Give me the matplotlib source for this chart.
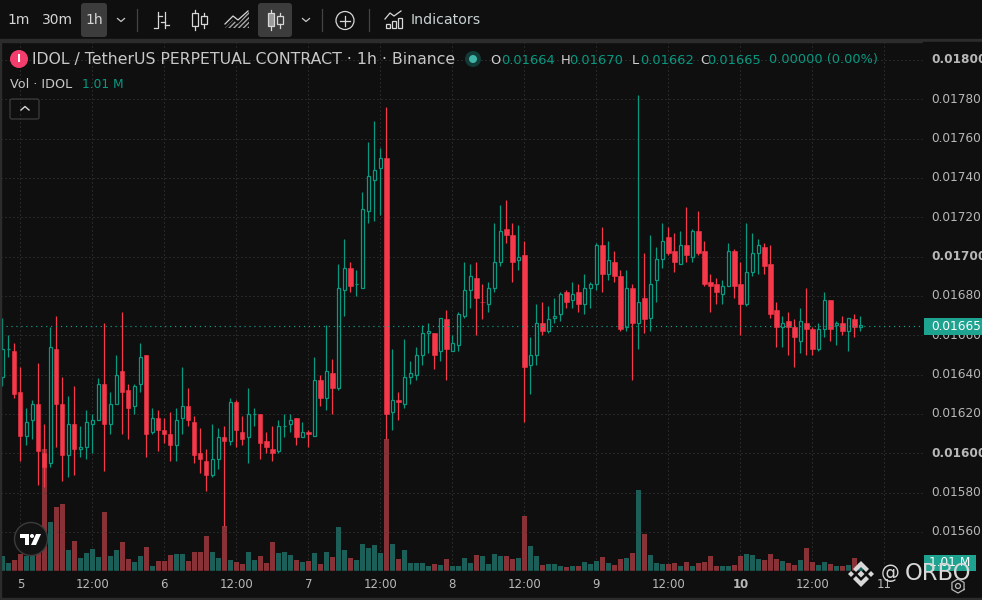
import matplotlib
matplotlib.use("Agg")
import matplotlib.pyplot as plt
from matplotlib.patches import Circle, FancyBboxPatch, Polygon, Rectangle
import numpy as np

# hourly candles, prices in units of 0.00001
opens = [1639,1653,1652,1631,1609,1617,1625,1600,1595,1653,
         1625,1599,1615,1602,1603,1615,1617,1635,1615,1625,
         1642,1632,1624,1635,1650,1611,1618,1612,1610,1604,
         1618,1624,1616,1600,1596,1589,1597,1608,1606,1626,
         1611,1608,1620,1620,1606,1602,1601,1614,1615,1618,
         1608,1611,1609,1637,1628,1641,1633,1683,1694,1686,
         1684,1723,1739,1745,1750,1621,1627,1625,1639,1640,
         1650,1661,1661,1652,1668,1652,1655,1670,1683,1689,
         1677,1676,1684,1697,1714,1711,1698,1701,1645,1650,
         1666,1662,1669,1671,1682,1678,1682,1676,1684,1686,
         1706,1691,1697,1690,1664,1684,1666,1679,1669,1688,
         1699,1710,1703,1696,1706,1700,1713,1703,1687,1686,
         1681,1685,1703,1686,1676,1692,1702,1705,1696,1673,
         1664,1667,1664,1657,1666,1663,1653,1663,1678,1665,
         1666,1662,1668,1664]
highs = [1669,1660,1656,1644,1623,1627,1646,1615,1664,1670,
         1639,1629,1634,1614,1622,1620,1638,1666,1631,1650,
         1672,1635,1635,1656,1650,1623,1622,1618,1621,1623,
         1644,1633,1619,1613,1602,1615,1613,1614,1628,1627,
         1619,1633,1623,1620,1611,1614,1617,1620,1620,1618,
         1616,1612,1649,1640,1665,1648,1696,1709,1697,1693,
         1733,1758,1769,1755,1776,1653,1631,1658,1647,1654,
         1665,1666,1661,1669,1673,1660,1672,1697,1696,1697,
         1686,1687,1717,1726,1729,1717,1716,1708,1659,1676,
         1677,1675,1679,1682,1683,1687,1686,1691,1687,1707,
         1715,1708,1703,1693,1693,1686,1782,1702,1711,1705,
         1717,1715,1712,1713,1725,1714,1723,1708,1691,1689,
         1688,1707,1704,1697,1717,1712,1709,1707,1706,1677,
         1670,1672,1668,1674,1684,1664,1666,1682,1678,1667,
         1670,1669,1671,1670]
lows = [1634,1649,1628,1596,1604,1607,1584,1583,1593,1603,
        1586,1588,1589,1598,1597,1600,1617,1591,1610,1625,
        1610,1607,1620,1631,1598,1610,1601,1605,1596,1596,
        1610,1614,1595,1590,1581,1588,1592,1563,1604,1603,
        1604,1595,1614,1597,1600,1596,1600,1608,1611,1604,
        1608,1603,1609,1624,1622,1620,1632,1670,1682,1680,
        1684,1717,1718,1721,1607,1612,1617,1623,1635,1637,
        1645,1651,1643,1647,1637,1652,1652,1669,1674,1660,
        1668,1672,1682,1695,1707,1687,1693,1616,1630,1645,
        1660,1661,1666,1667,1674,1674,1672,1671,1674,1683,
        1682,1688,1687,1662,1662,1637,1653,1661,1662,1677,
        1694,1701,1692,1696,1697,1697,1701,1685,1672,1676,
        1676,1685,1679,1660,1675,1690,1691,1691,1669,1654,
        1654,1650,1644,1651,1650,1650,1652,1659,1657,1655,
        1660,1652,1659,1662]
closes = [1653,1653,1630,1609,1616,1625,1601,1593,1654,1625,
          1599,1615,1602,1603,1616,1617,1635,1615,1625,1640,
          1631,1623,1634,1649,1610,1618,1612,1610,1604,1617,
          1624,1617,1599,1597,1589,1597,1608,1606,1626,1612,
          1607,1620,1620,1605,1603,1600,1614,1614,1617,1608,
          1611,1610,1637,1628,1642,1633,1684,1694,1685,1686,
          1724,1741,1744,1750,1620,1627,1626,1639,1641,1650,
          1661,1662,1650,1669,1653,1656,1671,1683,1690,1679,
          1677,1684,1697,1713,1711,1697,1700,1644,1650,1666,
          1662,1668,1670,1681,1677,1681,1676,1684,1686,1706,
          1691,1698,1690,1663,1684,1666,1677,1668,1686,1699,
          1708,1702,1697,1706,1701,1713,1702,1686,1685,1682,
          1685,1703,1685,1676,1692,1702,1706,1695,1671,1664,
          1666,1664,1659,1667,1663,1653,1663,1678,1663,1666,
          1662,1669,1664,1665]
# volume in millions
volumes = [1.89,1.01,1.39,2.15,1.89,1.89,2.40,15.4,6.19,8.08,
           8.46,2.65,3.79,1.64,2.27,2.78,1.77,7.45,1.89,2.65,
           3.66,1.52,1.14,1.89,3.03,0.63,1.26,1.26,2.02,2.15,
           2.15,1.26,2.40,2.40,4.42,2.40,1.64,5.68,1.39,1.14,
           0.88,2.40,1.39,1.89,1.01,3.66,2.27,2.40,2.02,1.39,
           1.14,1.26,2.27,0.88,2.40,1.77,5.56,2.65,1.64,1.39,
           3.41,2.90,3.28,2.27,16.67,3.41,1.52,2.65,1.01,1.01,
           1.01,0.63,0.88,0.76,1.52,0.63,0.63,1.64,1.01,2.02,
           1.89,0.88,2.15,1.89,1.89,1.52,1.64,6.95,3.16,1.89,
           0.76,0.88,0.88,0.63,0.50,0.63,0.63,1.14,0.88,1.26,
           1.77,1.01,0.76,1.52,1.64,2.27,10.23,4.67,2.02,1.01,
           0.88,0.88,1.01,0.63,1.14,0.63,1.01,1.14,1.89,0.63,
           0.63,0.63,0.76,1.89,2.15,2.02,1.52,1.39,2.15,1.52,
           1.26,1.01,0.76,1.39,2.90,1.14,0.76,1.14,0.88,0.63,
           0.63,0.76,1.64,1.01]
red_dojis = [80]  # flat candle drawn red though its volume bar is green

date_ticks = [3, 15, 27, 39, 51, 63, 75, 87, 99, 111, 123, 135, 147]
date_labels = ["5", "12:00", "6", "12:00", "7", "12:00", "8", "12:00", "9", "12:00", "10", "12:00", "11"]
price_ticks = [1800, 1780, 1760, 1740, 1720, 1700, 1680, 1660, 1640, 1620, 1600, 1580, 1560]
last_price = 1665

BG = "#0f0f0f"
GREEN = "#089981"
RED = "#f7374a"
VOL_GREEN = "#1c5f58"
VOL_RED = "#883136"
GRID = "#404040"
TEXT = "#b8b8b8"
ICON = "#d8d8d8"
W, H = 982, 600

plt.rcParams["font.family"] = ["DejaVu Sans"]
fig = plt.figure(figsize=(W / 100, H / 100), dpi=100, facecolor=BG)

# pane runs from pixel (1, 42) to (923, 571)
pos = [1 / W, 1 - 571 / H, 922 / W, 529 / H]
vol_ax = fig.add_axes(pos, facecolor=BG)
ax = fig.add_axes(pos, facecolor="none")
x = np.arange(len(opens))
x_range = (-0.222, 153.44)

for a in (vol_ax, ax):
    a.set_xlim(*x_range)
    a.set_xticks([])
    a.set_yticks([])
    for s in a.spines.values():
        s.set_visible(False)

vol_ax.set_ylim(0, 66.8)
vol_colors = [VOL_GREEN if c >= o else VOL_RED for o, c in zip(opens, closes)]
for t in date_ticks:
    vol_ax.axvline(t, color=GRID, lw=0.72, ls=(0, (1, 3)), zorder=0)
vol_ax.bar(x, volumes, width=0.85, color=vol_colors, zorder=2)

ax.set_ylim(1540.1, 1809.1)
for p in price_ticks:
    ax.axhline(p, color=GRID, lw=0.72, ls=(0, (1, 3)), zorder=0)

up = [c >= o and i not in red_dojis for i, (o, c) in enumerate(zip(opens, closes))]
candle_colors = [GREEN if u else RED for u in up]
ax.vlines(x, lows, highs, colors=candle_colors, lw=0.9, zorder=3)
for i in x:
    bottom, top = sorted((opens[i], closes[i]))
    if up[i]:
        ax.bar(i, top - bottom, bottom=bottom, width=0.6, facecolor=BG, edgecolor=GREEN, lw=0.9, zorder=4)
    else:
        ax.bar(i, top - bottom, bottom=bottom, width=0.72, facecolor=RED, edgecolor=RED, lw=0.4, zorder=4)
ax.axhline(last_price - 0.4, color="#12a08c", lw=0.85, ls=(0, (1, 3.2)), zorder=5)

# everything else is the app chrome, laid out in screen pixels
ui = fig.add_axes([0, 0, 1, 1], facecolor="none")
ui.set_xlim(0, W)
ui.set_ylim(H, 0)
ui.axis("off")

# toolbar
ui.add_patch(Rectangle((0, 0), W, 40, color="#0f0f0f", zorder=1))
ui.add_patch(Rectangle((0, 39), W, 3, color="#2c2c2c", zorder=1))
ui.add_patch(Rectangle((0, 571), 923, 29, color=BG, zorder=1))
ui.add_patch(Rectangle((923, 42), 59, 558, color=BG, zorder=1))
ui.add_patch(Rectangle((0, 42), 1, 558, color="#2c2c2c", zorder=2))
ui.add_patch(Rectangle((0, 598), W, 2, color="#2c2c2c", zorder=2))
for bx, bw in ((81, 26), (258, 34)):
    ui.add_patch(FancyBboxPatch((bx + 3, 6), bw - 6, 28, boxstyle="round,pad=3", color="#3c3c3c", lw=0, zorder=2))

for label, tx in (("1m", 18.5), ("30m", 57.5), ("1h", 94)):
    ui.text(tx, 20, label, color="#d6d6d6", fontsize=10, ha="center", va="center", zorder=5)
ui.text(411, 20, "Indicators", color="#c9d2d2", fontsize=10.2, ha="left", va="center", zorder=5)
for cx in (121, 306):
    ui.plot([cx - 3.5, cx, cx + 3.5], [18.5, 21.5, 18.5], color="#c8c8c8", lw=0.9, zorder=5)
for sx in (137.5, 322.5, 369.5):
    ui.plot([sx, sx], [9, 31], color="#444444", lw=0.9, zorder=5)

# bar icon
ui.plot([158, 158, 154], [12, 28, 28], color=ICON, lw=0.9, zorder=5)
ui.plot([158, 162], [16, 16], color=ICON, lw=0.9, zorder=5)
ui.plot([165, 165], [12, 28], color=ICON, lw=0.9, zorder=5)
ui.plot([161, 165], [22, 22], color=ICON, lw=0.9, zorder=5)
ui.plot([165, 169], [25, 25], color=ICON, lw=0.9, zorder=5)


def candle_icon(cx1, cx2, hatched=False):
    for cx, y0, y1, b0, b1 in ((cx1, 10, 30, 13, 26), (cx2, 13, 28, 16, 24)):
        ui.plot([cx, cx], [y0, b0], color=ICON, lw=0.9, zorder=5)
        ui.plot([cx, cx], [b1, y1], color=ICON, lw=0.9, zorder=5)
        fill = "#9a9a9a" if hatched and cx == cx1 else "none"
        ui.add_patch(Rectangle((cx - 3, b0), 6, b1 - b0, facecolor=fill, edgecolor=ICON, lw=0.9, zorder=5))


candle_icon(195, 204)
candle_icon(271, 280, hatched=True)
ui.add_patch(Polygon([(225, 28), (233, 20), (238, 24), (249, 11), (249, 28)], closed=True, fill=False,
                     hatch="///////", edgecolor="#a8a8a8", lw=0, zorder=4))
ui.plot([225, 233, 238, 248], [24, 16, 20, 11], color=ICON, lw=0.9, zorder=5)

ui.add_patch(Circle((345, 20.5), 9, fill=False, edgecolor=ICON, lw=0.9, zorder=5))
ui.plot([340, 350], [20.5, 20.5], color=ICON, lw=0.9, zorder=5)
ui.plot([345, 345], [15.5, 25.5], color=ICON, lw=0.9, zorder=5)

for rx, rt in ((386, 24), (392, 21), (398, 18)):
    ui.add_patch(Rectangle((rx, rt), 4.5, 28 - rt, fill=False, edgecolor=ICON, lw=0.9, zorder=5))
ui.plot([385, 390, 394, 401], [19, 13, 16, 11], color=ICON, lw=0.9, zorder=5)

# legend
ui.add_patch(Circle((19, 59), 9, color="#f23d6d", lw=0, zorder=5))
ui.text(19, 59, "I", color="white", fontsize=8, fontweight="bold", ha="center", va="center", zorder=6)
ui.text(32, 59.5, "IDOL / TetherUS PERPETUAL CONTRACT · 1h · Binance", color="#c8c8c8", fontsize=11.35, ha="left", va="center", zorder=5)
ui.add_patch(Circle((473, 59), 8, color="#123a36", lw=0, zorder=5))
ui.add_patch(Circle((473, 59), 4, color="#3fb5a8", lw=0, zorder=6))
for label, lx, val, vx in (("O", 490, "0.01664", 501), ("H", 561, "0.01670", 569),
                           ("L", 632, "0.01662", 640), ("C", 700, "0.01665", 707)):
    ui.text(lx, 60, label, color="#d0d0d0", fontsize=9.4, ha="left", va="center", zorder=5)
    ui.text(vx, 60, val, color=GREEN, fontsize=9.4, ha="left", va="center", zorder=5)
ui.text(769, 60, "0.00000 (0.00%)", color=GREEN, fontsize=9.3, ha="left", va="center", zorder=5)
ui.text(10, 84, "Vol · IDOL", color="#c8c8c8", fontsize=9.2, ha="left", va="center", zorder=5)
ui.text(82, 84, "1.01 M", color=GREEN, fontsize=8.8, ha="left", va="center", zorder=5)
ui.add_patch(FancyBboxPatch((12, 101), 25, 16, boxstyle="round,pad=2", fill=False, edgecolor="#3c3c3c", lw=0.9, zorder=5))
ui.plot([21, 25, 29], [110, 106.5, 110], color=ICON, lw=1, zorder=5)

# price scale
for p in price_ticks:
    py = 335.3 + (1660 - p) * 1.9665
    bold = p in (1800, 1700, 1600)
    ui.text(931, py, f"{p / 1e5:.5f}", color=TEXT, fontsize=8.7, ha="left", va="center",
            fontweight="bold" if bold else "normal", zorder=5)
ui.add_patch(Rectangle((924, 318), 58, 17, color="#1fa391", lw=0, zorder=6))
ui.text(931, 326.5, f"{last_price / 1e5:.5f}", color="white", fontsize=8.7, ha="left", va="center", zorder=7)
ui.add_patch(Rectangle((924, 555), 52, 16, color="#1fa391", lw=0, zorder=6))
ui.text(950, 563, "1.01 M", color="white", fontsize=8.7, ha="center", va="center", zorder=7)

# time scale
for t, label in zip(date_ticks, date_labels):
    ui.text(2.33 + 6 * t, 584.5, label, color=TEXT, fontsize=8.5, ha="center", va="center",
            fontweight="bold" if label == "10" else "normal", zorder=5)

# TradingView badge
ui.add_patch(Circle((31, 539), 16.5, facecolor="#131313", edgecolor="#3c3c3c", lw=1, zorder=6))
ui.add_patch(Polygon([(20, 534), (29, 534), (29, 545), (25, 545), (25, 538), (20, 538)], closed=True, color="white", lw=0, zorder=7))
ui.add_patch(Circle((32, 536), 2, color="white", lw=0, zorder=7))
ui.add_patch(Polygon([(36, 534), (41, 534), (36, 545), (31, 545)], closed=True, color="white", lw=0, zorder=7))

# watermark
WM = "#d8d8d8"
cx, cy = 861, 574
for pts in ([(0, -13), (8, -5), (5, -2), (0, -7), (-5, -2), (-8, -5)],
            [(0, 13), (8, 5), (5, 2), (0, 7), (-5, 2), (-8, 5)],
            [(0, -3.5), (3.5, 0), (0, 3.5), (-3.5, 0)],
            [(-10, -3), (-7, 0), (-10, 3), (-13, 0)],
            [(10, -3), (13, 0), (10, 3), (7, 0)]):
    ui.add_patch(Polygon([(cx + a, cy + b) for a, b in pts], closed=True, color=WM, lw=0, zorder=8))
ui.text(881, 574, "@", color=WM, fontsize=13.5, ha="left", va="center", zorder=8)
ui.text(905, 574, "ORBO", color=WM, fontsize=16.3, ha="left", va="center", zorder=8)
hex_x = 958 + 7 * np.cos(np.pi / 6 + np.arange(7) * np.pi / 3)
hex_y = 586 + 7 * np.sin(np.pi / 6 + np.arange(7) * np.pi / 3)
ui.plot(hex_x, hex_y, color="#b8b8b8", lw=0.9, zorder=8)
ui.add_patch(Circle((958, 586), 2.5, fill=False, edgecolor="#b8b8b8", lw=0.9, zorder=8))

fig.savefig("out.png", dpi=100, facecolor=BG)
